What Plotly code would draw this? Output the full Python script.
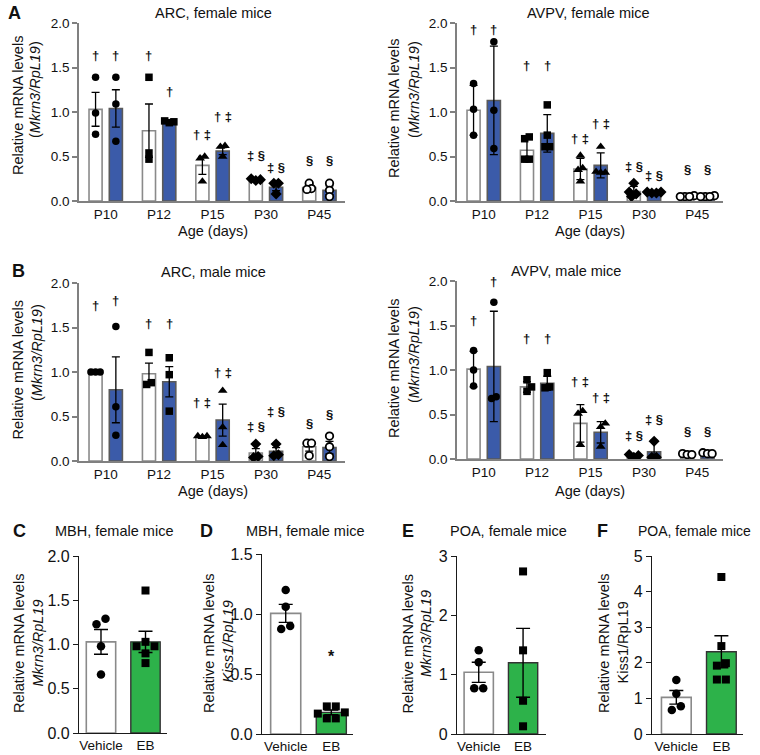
import plotly.graph_objects as go

W, H = 760, 755

def px(x):
    return x / W

def py(y):
    return 1 - y / H

# ---------------- DATA ----------------
groups = ["P10", "P12", "P15", "P30", "P45"]
group_symbols = ["circle", "square", "triangle-up", "diamond", "circle-open"]

# ARC, female
arcF_veh_mean = [1.03, 0.79, 0.40, 0.24, 0.15]
arcF_veh_err = [0.19, 0.30, 0.10, 0.01, 0.02]
arcF_veh_pts = [[1.39, 0.99, 0.75], [1.39, 0.54, 0.47], [0.50, 0.48, 0.22], [0.25, 0.24, 0.23], [0.20, 0.14, 0.13]]
arcF_trt_mean = [1.04, 0.90, 0.56, 0.155, 0.12]
arcF_trt_err = [0.21, 0.01, 0.04, 0.04, 0.05]
arcF_trt_pts = [[1.39, 1.09, 0.67], [0.90, 0.89, 0.88], [0.62, 0.61, 0.50], [0.20, 0.20, 0.08], [0.20, 0.12, 0.05]]
arcF_veh_sig = ["†", "†", "† ‡", "‡ §", "§"]
arcF_veh_sig_y = [1.63, 1.63, 0.75, 0.51, 0.45]
arcF_trt_sig = ["†", "†", "† ‡", "‡ §", "§"]
arcF_trt_sig_y = [1.63, 1.23, 0.95, 0.375, 0.45]

# AVPV, female
avpvF_veh_mean = [1.02, 0.57, 0.36, 0.105, 0.05]
avpvF_veh_err = [0.28, 0.13, 0.12, 0.06, 0.01]
avpvF_veh_pts = [[1.32, 1.03, 0.74], [0.72, 0.70, 0.47, 0.47], [0.51, 0.37, 0.35, 0.22], [0.20, 0.10, 0.08, 0.05], [0.06, 0.05, 0.05, 0.05]]
avpvF_trt_mean = [1.13, 0.76, 0.40, 0.095, 0.05]
avpvF_trt_err = [0.61, 0.21, 0.14, 0.01, 0.01]
avpvF_trt_pts = [[1.79, 1.02, 0.59], [1.08, 0.74, 0.61, 0.61], [0.61, 0.33, 0.32, 0.32], [0.10, 0.10, 0.09, 0.09], [0.06, 0.05, 0.05, 0.05]]
avpvF_veh_sig = ["†", "†", "† ‡", "‡ §", "§"]
avpvF_veh_sig_y = [1.93, 1.52, 0.70, 0.39, 0.35]
avpvF_trt_sig = ["†", "†", "† ‡", "‡ §", "§"]
avpvF_trt_sig_y = [1.93, 1.52, 0.87, 0.29, 0.35]

# ARC, male
arcM_veh_mean = [1.00, 0.98, 0.27, 0.09, 0.16]
arcM_veh_err = [0.0, 0.12, 0.01, 0.05, 0.05]
arcM_veh_pts = [[1.00, 1.00, 1.00], [1.22, 0.88, 0.86], [0.28, 0.28, 0.27], [0.19, 0.05, 0.04], [0.20, 0.20, 0.06]]
arcM_trt_mean = [0.80, 0.89, 0.46, 0.11, 0.15]
arcM_trt_err = [0.37, 0.17, 0.18, 0.04, 0.07]
arcM_trt_pts = [[1.51, 0.61, 0.29], [1.16, 0.97, 0.56], [0.79, 0.38, 0.18], [0.19, 0.07, 0.06], [0.28, 0.16, 0.05]]
arcM_veh_sig = ["†", "†", "† ‡", "‡ §", "§"]
arcM_veh_sig_y = [1.75, 1.55, 0.66, 0.39, 0.42]
arcM_trt_sig = ["†", "†", "† ‡", "‡ §", "§"]
arcM_trt_sig_y = [1.80, 1.55, 0.99, 0.56, 0.52]

# AVPV, male
avpvM_veh_mean = [1.01, 0.81, 0.40, 0.035, 0.05]
avpvM_veh_err = [0.20, 0.06, 0.21, 0.015, 0.01]
avpvM_veh_pts = [[1.22, 1.00, 0.82], [0.89, 0.81, 0.76], [0.54, 0.51, 0.16], [0.05, 0.04, 0.02], [0.06, 0.05, 0.05]]
avpvM_trt_mean = [1.04, 0.85, 0.30, 0.08, 0.06]
avpvM_trt_err = [0.62, 0.08, 0.12, 0.13, 0.01]
avpvM_trt_pts = [[1.76, 0.70, 0.68], [0.97, 0.81, 0.80], [0.40, 0.36, 0.14], [0.20, 0.02, 0.02], [0.07, 0.06, 0.06]]
avpvM_veh_sig = ["†", "†", "† ‡", "‡ §", "§"]
avpvM_veh_sig_y = [1.56, 1.35, 0.87, 0.26, 0.31]
avpvM_trt_sig = ["†", "†", "† ‡", "‡ §", "§"]
avpvM_trt_sig_y = [1.99, 1.35, 0.69, 0.44, 0.31]

# Bottom row: Vehicle vs EB
treatments = ["Vehicle", "EB"]
C_mean = [1.03, 1.03]
C_err = [0.14, 0.12]
C_veh_pts = [1.29, 1.23, 0.98, 0.66]
C_eb_pts = [1.61, 1.03, 0.98, 0.98, 0.90, 0.79]

D_mean = [1.005, 0.18]
D_err = [0.075, 0.02]
D_veh_pts = [1.20, 1.06, 0.90, 0.875]
D_eb_pts = [0.23, 0.23, 0.18, 0.17, 0.13, 0.13]
D_sig_y = 0.65

E_mean = [1.04, 1.20]
E_err = [0.17, 0.58]
E_veh_pts = [1.41, 1.21, 0.77, 0.77]
E_eb_pts = [2.74, 1.41, 0.56, 0.13]

F_mean = [1.03, 2.31]
F_err = [0.19, 0.45]
F_veh_pts = [1.52, 1.13, 0.78, 0.675]
F_eb_pts = [4.41, 2.47, 1.99, 1.92, 1.53, 1.53]
F_sig_y = 5.05

# ---------------- STYLE ----------------
FONT = "Liberation Sans, Arial, Helvetica, sans-serif"
WHITE_LINE = "#8a8a8a"
BLUE = "#3b5ba9"
BLUE_LINE = "#5a5a5a"
GREEN = "#2db24a"
GREEN_LINE = "#333333"
AXG = "#808080"
AXD = "#1a1a1a"

fig = go.Figure()
lay = {}
annotations = []


def names(n):
    s = "" if n == 1 else str(n)
    return "x" + s, "y" + s, "xaxis" + s, "yaxis" + s


def swarm(vals, ypu, xpu, s):
    order = sorted(range(len(vals)), key=lambda i: vals[i])
    placed = []
    offs = [0.0] * len(vals)
    cands = [0.0]
    for m in range(1, 12):
        cands += [m * s, -m * s]
    for i in order:
        y = vals[i] * ypu
        chosen = cands[-1]
        for c in cands:
            if all((c - a) ** 2 + (y - b) ** 2 >= (s * 0.999) ** 2 for a, b, _ in placed):
                chosen = c
                break
        placed.append((chosen, y, i))
        offs[i] = chosen
    rows = []
    for a, b, i in sorted(placed, key=lambda t: t[1]):
        if rows and b - rows[-1][0][1] < s * 0.75:
            rows[-1].append((a, b, i))
        else:
            rows.append([(a, b, i)])
    for r in rows:
        if len(r) > 1:
            m = sum(p[0] for p in r) / len(r)
            for p in r:
                offs[p[2]] = p[0] - m
    return [o / xpu for o in offs]


def setup_axes(n, xdom, ydom, xrange, yrange, xtv, xtt, ytv, ytt, dark, yfs, xfs):
    xr, yr, xn, yn = names(n)
    col = AXD if dark else AXG
    lw = 1.3 if dark else 1.6
    lay[xn] = dict(domain=[px(xdom[0]), px(xdom[1])], range=xrange, anchor=yr,
                   showline=True, linecolor=col, linewidth=lw, ticks="",
                   tickvals=xtv, ticktext=xtt, tickfont=dict(size=xfs, color="#111", family=FONT),
                   showgrid=False, zeroline=False, fixedrange=True, automargin=False)
    lay[yn] = dict(domain=[py(ydom[1]), py(ydom[0])], range=yrange, anchor=xr,
                   showline=True, linecolor=col, linewidth=lw, ticks="outside",
                   ticklen=5, tickwidth=lw, tickcolor=col,
                   tickvals=ytv, ticktext=ytt, tickfont=dict(size=yfs, color="#111", family=FONT),
                   showgrid=False, zeroline=False, fixedrange=True, automargin=False)
    xpu = (xdom[1] - xdom[0]) / (xrange[1] - xrange[0])
    ypu = (ydom[1] - ydom[0]) / (yrange[1] - yrange[0])
    return xr, yr, xpu, ypu


def text(x, y, t, size, xref="paper", yref="paper", angle=0, bold=False, xanchor="center"):
    annotations.append(dict(x=x, y=y, xref=xref, yref=yref, text=("<b>%s</b>" % t) if bold else t,
                            showarrow=False, textangle=angle, xanchor=xanchor, yanchor="middle",
                            font=dict(size=size, color="#111111", family=FONT)))


OFF = 0.19
BW = 0.245


def grouped_panel(n, xdom, ydom, veh_mean, veh_err, veh_pts, trt_mean, trt_err, trt_pts,
                  veh_sig, veh_sig_y, trt_sig, trt_sig_y):
    xr, yr, xpu, ypu = setup_axes(n, xdom, ydom, [-0.5, 4.48], [0, 2.0], list(range(5)), groups,
                                  [0, 0.5, 1.0, 1.5, 2.0], ["0.0", "0.5", "1.0", "1.5", "2.0"],
                                  False, 13.5, 13.5)
    xs = list(range(len(groups)))
    for mean, err, off, fill, line in [(veh_mean, veh_err, -OFF, "white", WHITE_LINE),
                                       (trt_mean, trt_err, OFF, BLUE, BLUE_LINE)]:
        fig.add_trace(go.Bar(x=[x + off for x in xs], y=mean, width=BW, xaxis=xr, yaxis=yr,
                             marker=dict(color=fill, line=dict(color=line, width=1.6)),
                             error_y=dict(type="data", array=err, visible=True, color="black",
                                          thickness=1.3, width=4),
                             showlegend=False, hoverinfo="skip"))
    for gi in xs:
        sym = group_symbols[gi]
        for pts, off in [(veh_pts[gi], -OFF), (trt_pts[gi], OFF)]:
            jit = swarm(pts, ypu, xpu, 4.6)
            if sym == "circle-open":
                mk = dict(symbol="circle", size=7.5, color="white", line=dict(color="black", width=1.8))
            else:
                sz = 8.5 if sym in ("triangle-up", "diamond") else 7.5
                mk = dict(symbol=sym, size=sz, color="black", line=dict(width=0))
            fig.add_trace(go.Scatter(x=[gi + off + j for j in jit], y=pts, mode="markers",
                                     marker=mk, xaxis=xr, yaxis=yr, showlegend=False, hoverinfo="skip"))
    for sig, sy, off in [(veh_sig, veh_sig_y, -OFF), (trt_sig, trt_sig_y, OFF)]:
        for gi in xs:
            text(gi + off, sy[gi], sig[gi], 13, xref=xr, yref=yr, bold=True)


def pair_panel(n, xdom, ydom, xrange, yrange, ytv, ytt, mean, err, veh_pts, eb_pts, sig_y=None):
    xr, yr, xpu, ypu = setup_axes(n, xdom, ydom, xrange, yrange, [0, 1], treatments,
                                  ytv, ytt, True, 16, 13.5)
    fig.add_trace(go.Bar(x=[0], y=[mean[0]], width=0.66, xaxis=xr, yaxis=yr,
                         marker=dict(color="white", line=dict(color=WHITE_LINE, width=1.6)),
                         error_y=dict(type="data", array=[err[0]], visible=True, color="black",
                                      thickness=1.4, width=7),
                         showlegend=False, hoverinfo="skip"))
    fig.add_trace(go.Bar(x=[1], y=[mean[1]], width=0.66, xaxis=xr, yaxis=yr,
                         marker=dict(color=GREEN, line=dict(color=GREEN_LINE, width=1.4)),
                         error_y=dict(type="data", array=[err[1]], visible=True, color="black",
                                      thickness=1.4, width=7),
                         showlegend=False, hoverinfo="skip"))
    for pts, x0, sym in [(veh_pts, 0, "circle"), (eb_pts, 1, "square")]:
        jit = swarm(pts, ypu, xpu, 9.0)
        fig.add_trace(go.Scatter(x=[x0 + j for j in jit], y=pts, mode="markers",
                                 marker=dict(symbol=sym, size=8.5 if sym == "circle" else 8,
                                             color="black", line=dict(width=0)),
                                 xaxis=xr, yaxis=yr, showlegend=False, hoverinfo="skip"))
    if sig_y is not None:
        text(1, sig_y, "*", 16, xref=xr, yref=yr, bold=True)


# ---------------- PANELS ----------------
grouped_panel(1, (79, 345), (23, 201), arcF_veh_mean, arcF_veh_err, arcF_veh_pts,
              arcF_trt_mean, arcF_trt_err, arcF_trt_pts,
              arcF_veh_sig, arcF_veh_sig_y, arcF_trt_sig, arcF_trt_sig_y)
grouped_panel(2, (457, 723), (23, 201), avpvF_veh_mean, avpvF_veh_err, avpvF_veh_pts,
              avpvF_trt_mean, avpvF_trt_err, avpvF_trt_pts,
              avpvF_veh_sig, avpvF_veh_sig_y, avpvF_trt_sig, avpvF_trt_sig_y)
grouped_panel(3, (79, 345), (283, 461), arcM_veh_mean, arcM_veh_err, arcM_veh_pts,
              arcM_trt_mean, arcM_trt_err, arcM_trt_pts,
              arcM_veh_sig, arcM_veh_sig_y, arcM_trt_sig, arcM_trt_sig_y)
grouped_panel(4, (457, 723), (281, 459), avpvM_veh_mean, avpvM_veh_err, avpvM_veh_pts,
              avpvM_trt_mean, avpvM_trt_err, avpvM_trt_pts,
              avpvM_veh_sig, avpvM_veh_sig_y, avpvM_trt_sig, avpvM_trt_sig_y)

pair_panel(5, (79, 167), (556, 733), [-0.494, 1.483], [0, 2.0],
           [0, 0.5, 1.0, 1.5, 2.0], ["0.0", "0.5", "1.0", "1.5", "2.0"],
           C_mean, C_err, C_veh_pts, C_eb_pts)
pair_panel(6, (262, 353), (554, 734), [-0.52, 1.476], [0, 1.5],
           [0, 0.5, 1.0, 1.5], ["0.0", "0.5", "1.0", "1.5"],
           D_mean, D_err, D_veh_pts, D_eb_pts, D_sig_y)
pair_panel(7, (457, 546), (556, 734), [-0.49, 1.517], [0, 3],
           [0, 1, 2, 3], ["0", "1", "2", "3"],
           E_mean, E_err, E_veh_pts, E_eb_pts)
pair_panel(8, (652, 743), (556, 734), [-0.54, 1.48], [0, 5],
           [0, 1, 2, 3, 4, 5], ["0", "1", "2", "3", "4", "5"],
           F_mean, F_err, F_veh_pts, F_eb_pts, F_sig_y)

# ---------------- TEXT ----------------
for letter, x, y in [("A", 14.5, 13), ("B", 18, 271), ("C", 19, 531), ("D", 206, 531),
                     ("E", 407.5, 531), ("F", 602, 531)]:
    text(px(x), py(y), letter, 18, bold=True)

for t, x, y, fs in [("ARC, female mice", 213, 13, 14.5), ("AVPV, female mice", 588, 13, 14.5),
                    ("ARC, male mice", 213, 272, 14.5), ("AVPV, male mice", 566, 271, 14.5),
                    ("MBH, female mice", 114, 531, 14.5), ("MBH, female mice", 304.5, 531, 14.5),
                    ("POA, female mice", 508, 531, 14.5), ("POA, female mice", 694, 531, 14)]:
    text(px(x), py(y), t, fs)

for x, y in [(213, 231), (590, 231), (213, 491), (590, 491)]:
    text(px(x), py(y), "Age (days)", 14.5)

ytitles = [
    ((18, 106), (35, 90), "(<i>Mkrn3/RpL19</i>)"),
    ((394, 108), (414, 90), "(<i>Mkrn3/RpL19</i>)"),
    ((17.5, 370), (37, 353), "(<i>Mkrn3/RpL19</i>)"),
    ((394, 368), (414, 355), "(<i>Mkrn3/RpL19</i>)"),
    ((19, 644), (37.5, 643), "<i>Mkrn3/RpL19</i>"),
    ((209, 644), (227.5, 642), "<i>Kiss1/RpL19</i>"),
    ((407.5, 644), (426, 634), "<i>Mkrn3/RpL19</i>"),
    ((604, 644), (622.5, 643), "Kiss1/RpL19"),
]
for (x1, y1), (x2, y2), l2 in ytitles:
    text(px(x1), py(y1), "Relative mRNA levels", 14.5, angle=-90)
    text(px(x2), py(y2), l2, 14.5, angle=-90)

fig.update_layout(width=W, height=H, margin=dict(l=0, r=0, t=0, b=0, autoexpand=False),
                  paper_bgcolor="white", plot_bgcolor="white", barmode="overlay",
                  showlegend=False, annotations=annotations,
                  font=dict(family=FONT, color="#111"), **lay)

fig.write_html("out.html", config={"displayModeBar": False},
               post_script="document.body.style.margin='0';document.body.style.padding='0';"
                           "document.documentElement.style.overflow='hidden';")
